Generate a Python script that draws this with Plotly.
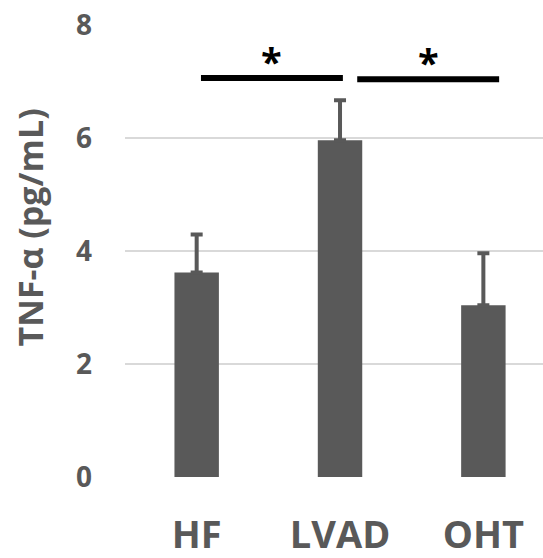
import plotly.graph_objects as go

categories = ["HF", "LVAD", "OHT"]
means = [3.62, 5.96, 3.04]
errors_up = [0.67, 0.71, 0.92]
errors_down = [0, 0, 0]
y_ticks = [0, 2, 4, 6, 8]

# significance brackets: (x start, x end, y level, label) in category units
sig_x0 = [0.03, 1.12]
sig_x1 = [1.02, 2.11]
sig_y = [7.06, 7.04]
sig_labels = ["*", "*"]

GREY = "#595959"
FONT = "Open Sans"

fig = go.Figure()
fig.add_trace(go.Bar(
    x=list(range(len(categories))), y=means, width=0.31,
    marker=dict(color=GREY, line=dict(width=0)),
    error_y=dict(type="data", symmetric=False, array=errors_up, arrayminus=errors_down,
                 color=GREY, thickness=4, width=6),
))

for x0, x1, y, lab in zip(sig_x0, sig_x1, sig_y, sig_labels):
    fig.add_shape(type="line", x0=x0, x1=x1, y0=y, y1=y, xref="x", yref="y",
                  line=dict(color="black", width=6))
    fig.add_annotation(x=(x0 + x1) / 2, y=y, xref="x", yref="y", text="<b>" + lab + "</b>",
                       showarrow=False, yanchor="bottom", yshift=-11,
                       font=dict(family=FONT, size=38, color="black"))

fig.add_annotation(text="<b>TNF-α (pg/mL)</b>", textangle=-90, xref="paper", yref="paper",
                   x=-0.225, y=0.552, xanchor="center", yanchor="middle", showarrow=False,
                   font=dict(family=FONT, size=34, color=GREY))

fig.update_layout(
    width=543, height=558,
    margin=dict(l=125, r=0, t=25, b=81),
    paper_bgcolor="white", plot_bgcolor="white",
    showlegend=False,
    xaxis=dict(tickmode="array", tickvals=list(range(len(categories))), ticktext=["<b>" + c + "</b>" for c in categories],
               range=[-0.5, 2.416], showgrid=False, zeroline=False, showline=False, automargin=False,
               tickfont=dict(family=FONT, size=38, color=GREY), ticklabelstandoff=32,
               ticklabeloverflow="allow"),
    yaxis=dict(range=[0, 8.0001], tickmode="array", tickvals=y_ticks, ticktext=["<b>%d</b>" % v for v in y_ticks],
               showgrid=True, gridcolor="#d9d9d9", gridwidth=1.5, zeroline=False, showline=False, automargin=False,
               tickfont=dict(family=FONT, size=28, color=GREY), ticklabelstandoff=32,
               ticklabeloverflow="allow"),
)

fig.write_html("out.html", config={"displayModeBar": False},
               post_script="document.body.style.margin='0';")
